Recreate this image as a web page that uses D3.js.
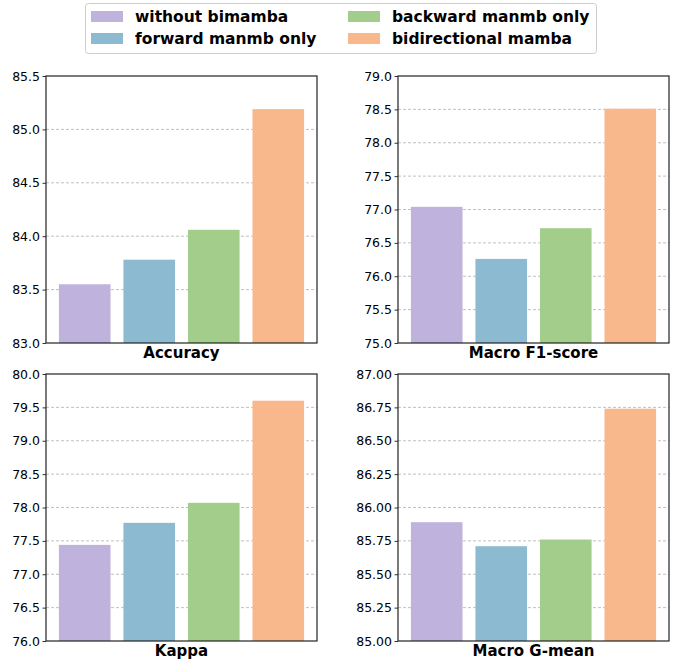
<!DOCTYPE html>
<html>
<head>
<meta charset="utf-8">
<script src="https://cdn.jsdelivr.net/npm/d3@7"></script>
<style>
  body { margin: 0; background: #fff; }
  text { font-family: 'DejaVu Sans', sans-serif; }
</style>
</head>
<body>
<div id="chart"></div>
<script>
var variants = ['without bimamba', 'forward manmb only', 'backward manmb only', 'bidirectional mamba'];
var colors = ['#bfb3de', '#8bbad1', '#a2cd8a', '#f8b88b'];

var metricNames = ['Accuracy', 'Macro F1-score', 'Kappa', 'Macro G-mean'];
var accuracy = [83.55, 83.78, 84.06, 85.19];
var macroF1 = [77.04, 76.26, 76.72, 78.51];
var kappa = [77.44, 77.77, 78.07, 79.60];
var gmean = [85.89, 85.71, 85.76, 86.74];

var accTicks = [83.0, 83.5, 84.0, 84.5, 85.0, 85.5];
var f1Ticks = [75.0, 75.5, 76.0, 76.5, 77.0, 77.5, 78.0, 78.5, 79.0];
var kappaTicks = [76.0, 76.5, 77.0, 77.5, 78.0, 78.5, 79.0, 79.5, 80.0];
var gmeanTicks = [85.00, 85.25, 85.50, 85.75, 86.00, 86.25, 86.50, 86.75, 87.00];

(function(d3) {
  'use strict';

  var width = 681;
  var height = 663;

  var svg = d3.select('#chart')
    .append('svg')
    .attr('width', width)
    .attr('height', height);

  var panels = [
    { name: metricNames[0], values: accuracy, ticks: accTicks, digits: 1, x: 46, y: 76 },
    { name: metricNames[1], values: macroF1, ticks: f1Ticks, digits: 1, x: 398, y: 76 },
    { name: metricNames[2], values: kappa, ticks: kappaTicks, digits: 1, x: 46, y: 374 },
    { name: metricNames[3], values: gmean, ticks: gmeanTicks, digits: 2, x: 398, y: 374 }
  ];

  var pw = 271;
  var ph = 267;

  panels.forEach(function(p) {
    var g = svg.append('g')
      .attr('transform', 'translate(' + p.x + ',' + p.y + ')');

    // matplotlib style: positions 0..3, width 0.8, xlim -0.6..3.6
    var x = d3.scaleLinear().domain([-0.6, 3.6]).range([0, pw]);
    var y = d3.scaleLinear()
      .domain([p.ticks[0], p.ticks[p.ticks.length - 1]])
      .range([ph, 0]);

    // grid
    g.selectAll('line.grid')
      .data(p.ticks.slice(1, -1))
      .enter()
      .append('line')
      .attr('class', 'grid')
      .attr('x1', 0)
      .attr('x2', pw)
      .attr('y1', function(d) { return y(d); })
      .attr('y2', function(d) { return y(d); })
      .attr('stroke', '#b0b0b0')
      .attr('stroke-width', 0.8)
      .attr('stroke-dasharray', '3,2');

    g.selectAll('rect.bar')
      .data(p.values)
      .enter()
      .append('rect')
      .attr('class', 'bar')
      .attr('x', function(d, i) { return x(i - 0.4); })
      .attr('width', x(0.4) - x(-0.4))
      .attr('y', function(d) { return y(d); })
      .attr('height', function(d) { return ph - y(d); })
      .attr('fill', function(d, i) { return colors[i]; });

    var fmt = d3.format('.' + p.digits + 'f');
    var yAxis = d3.axisLeft(y)
      .tickValues(p.ticks)
      .tickFormat(fmt)
      .tickSize(3.5)
      .tickPadding(2.5);

    var ax = g.append('g').call(yAxis);
    ax.select('.domain').remove();
    ax.selectAll('text')
      .attr('font-size', '12.5px')
      .attr('fill', '#000');
    ax.selectAll('line').attr('stroke', '#000').attr('stroke-width', 0.8);

    g.append('rect')
      .attr('x', 0)
      .attr('y', 0)
      .attr('width', pw)
      .attr('height', ph)
      .attr('fill', 'none')
      .attr('stroke', '#222')
      .attr('stroke-width', 1.2);

    g.append('text')
      .attr('x', pw / 2)
      .attr('y', ph + 15)
      .attr('text-anchor', 'middle')
      .attr('font-size', '15px')
      .attr('font-weight', 'bold')
      .text(p.name);
  });

  // legend
  var legend = svg.append('g');
  legend.append('rect')
    .attr('x', 85.5)
    .attr('y', 3.5)
    .attr('width', 511)
    .attr('height', 50)
    .attr('rx', 3)
    .attr('fill', '#fff')
    .attr('stroke', '#cccccc')
    .attr('stroke-width', 1);

  var legendPos = [
    { x: 91, y: 11 },
    { x: 91, y: 33 },
    { x: 348, y: 11 },
    { x: 348, y: 33 }
  ];

  var item = legend.selectAll('g.item')
    .data(variants)
    .enter()
    .append('g')
    .attr('class', 'item')
    .attr('transform', function(d, i) {
      return 'translate(' + legendPos[i].x + ',' + legendPos[i].y + ')';
    });

  item.append('rect')
    .attr('width', 32)
    .attr('height', 11)
    .attr('fill', function(d, i) { return colors[i]; });

  item.append('text')
    .attr('x', 44)
    .attr('y', 11)
    .attr('font-size', '15.5px')
    .attr('font-weight', 'bold')
    .text(function(d) { return d; });

})(window.d3);
</script>
</body>
</html>
